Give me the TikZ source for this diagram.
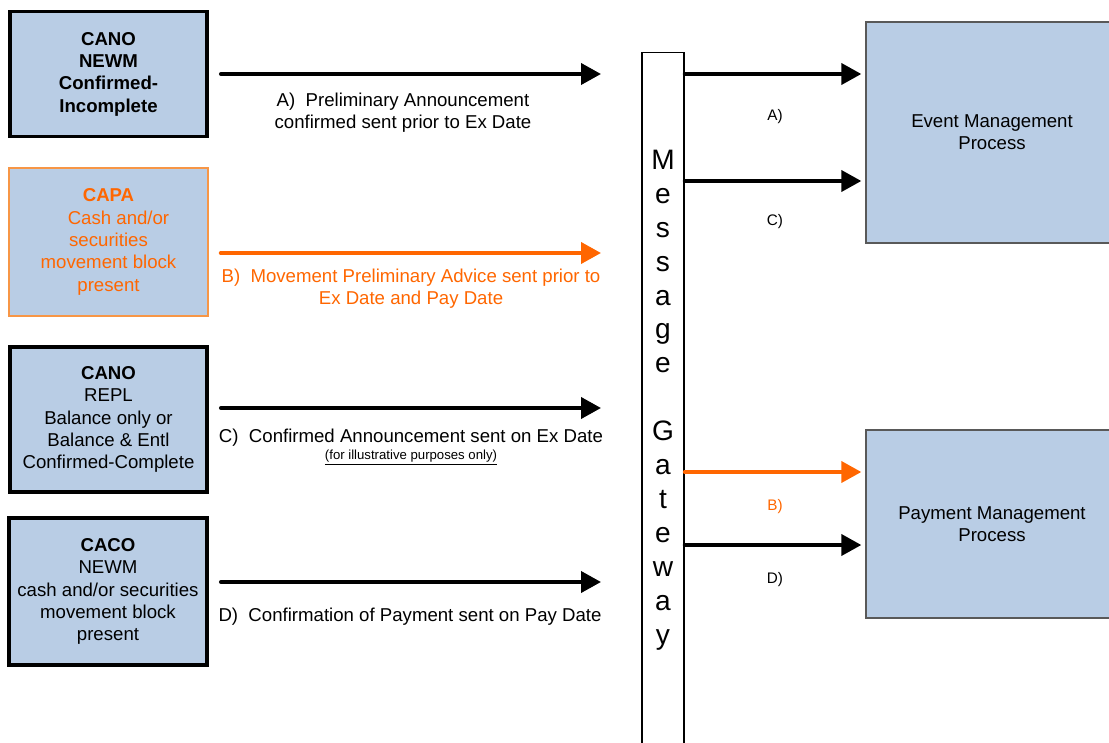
\documentclass[tikz,border=0pt]{standalone}
\usepackage{fontspec}
\setmainfont{Liberation Sans}
\usetikzlibrary{arrows.meta, positioning}
\definecolor{BoxBlue}{HTML}{B9CDE5}
\definecolor{MsgOrange}{HTML}{FF6600}
\definecolor{EdgeOrange}{HTML}{F79646}
\definecolor{EdgeGray}{HTML}{595959}

\begin{document}
\begin{tikzpicture}[x=0.02cm, y=-0.02cm,
    src/.style={draw, line width=2.2pt, fill=BoxBlue, align=center, inner sep=0pt, font=\fontsize{10.6}{12.7}\selectfont},
    proc/.style={draw=EdgeGray, line width=0.8pt, fill=BoxBlue, align=center, minimum width=5.04cm, font=\fontsize{10.6}{12.7}\selectfont},
    arr/.style={line width=2.2pt, line cap=round, -{Triangle[length=0.4cm, width=0.42cm]}},
    lbl/.style={align=center, font=\fontsize{10.6}{12.7}\selectfont},
    tag/.style={font=\fontsize{8.7}{10}\selectfont}]
    \useasboundingbox (0,0) rectangle (1109,743);

    % Source messages
    \node[src, minimum width=3.94cm, minimum height=2.5cm] (cano1) at (108.5,74)
        {\textbf{CANO}\\\textbf{NEWM}\\\textbf{Confirmed-}\\\textbf{Incomplete}};
    \node[src, draw=EdgeOrange, line width=0.8pt, text=MsgOrange, minimum width=3.98cm, minimum height=2.96cm] (capa) at (108.5,242)
        {\textbf{CAPA}\\\hspace*{0.4cm}Cash and/or\\securities\\movement block\\present};
    \node[src, minimum width=3.94cm, minimum height=2.9cm] (cano2) at (108.5,419.5)
        {\textbf{CANO}\\REPL\\Balance only or\\Balance \& Entl\\Confirmed-Complete};
    \node[src, minimum width=3.96cm, minimum height=2.94cm] (caco) at (108,591.5)
        {\textbf{CACO}\\NEWM\\cash and/or securities\\movement block\\present};

    % Gateway and processes
    \node[draw, line width=0.8pt, minimum width=0.84cm, minimum height=13.9cm, inner sep=0pt, align=center,
        font=\fontsize{16}{19.3}\selectfont] (gw) at (663,400)
        {M\\e\\s\\s\\a\\g\\e\\[19.3pt]G\\a\\t\\e\\w\\a\\y};
    \node[proc, minimum height=4.42cm] (evt) at (992,132.5) {Event Management\\Process};
    \node[proc, minimum height=3.76cm] (pay) at (992,524) {Payment Management\\Process};

    % Messages into the gateway
    \coordinate (tA) at (601,74);
    \coordinate (tB) at (601,253);
    \coordinate (tC) at (601,408);
    \coordinate (tD) at (601,582);
    \draw[arr, shorten <=0.24cm] (cano1.east |- tA) -- (tA);
    \draw[arr, MsgOrange, shorten <=0.24cm] (capa.east |- tB) -- (tB);
    \draw[arr, shorten <=0.24cm] (cano2.east |- tC) -- (tC);
    \draw[arr, shorten <=0.24cm] (caco.east |- tD) -- (tD);

    \node[lbl] (lA) at (403,112.5) {A)\ \ Preliminary Announcement\\confirmed sent prior to Ex Date};
    \node[lbl, text=MsgOrange] (lB) at (411,288.5) {B)\ \ Movement Preliminary Advice sent prior to\\Ex Date and Pay Date};
    \node[lbl] (lC) at (411,438) {C)\ \ Confirmed Announcement sent on Ex Date};
    \node[font=\fontsize{7.5}{9}\selectfont] (lCnote) at (411,458) {\underline{(for illustrative purposes only)}};
    \node[lbl] (lD) at (410,617) {D)\ \ Confirmation of Payment sent on Pay Date};

    % Gateway to processes
    \coordinate (rA) at (700,74);
    \coordinate (rC) at (700,181);
    \coordinate (rB) at (700,472);
    \coordinate (rD) at (700,545);
    \draw[arr, shorten >=0.08cm] (gw.east |- rA) -- (evt.west |- rA);
    \draw[arr, shorten >=0.08cm] (gw.east |- rC) -- (evt.west |- rC);
    \draw[arr, MsgOrange, shorten >=0.08cm] (gw.east |- rB) -- (pay.west |- rB);
    \draw[arr, shorten >=0.08cm] (gw.east |- rD) -- (pay.west |- rD);

    \node[tag] (rlA) at (775,117) {A)};
    \node[tag] (rlC) at (775,222) {C)};
    \node[tag, text=MsgOrange] (rlB) at (775,507) {B)};
    \node[tag] (rlD) at (775,580) {D)};
\end{tikzpicture}
\end{document}
